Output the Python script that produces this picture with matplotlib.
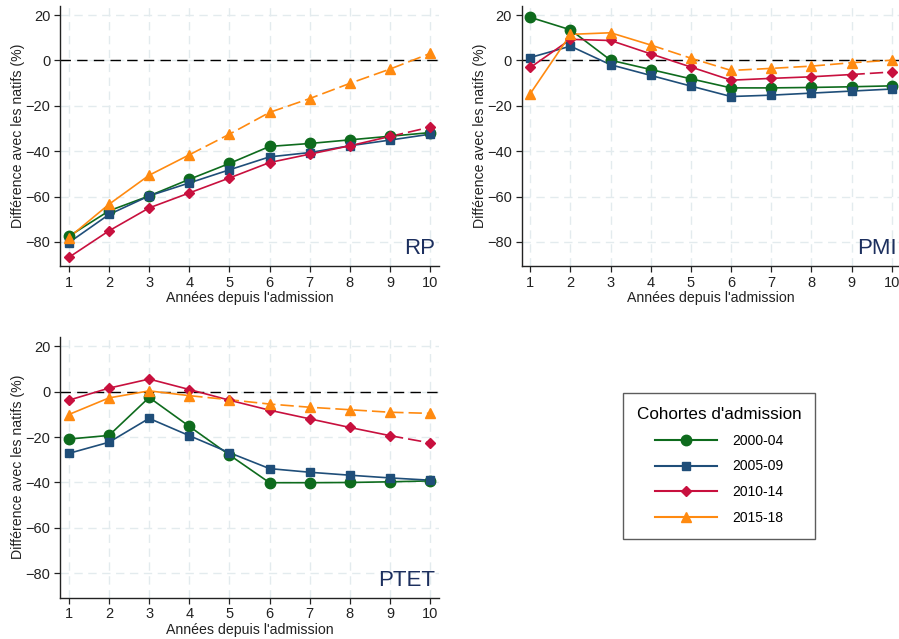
import matplotlib
matplotlib.use("Agg")
import matplotlib.pyplot as plt
from matplotlib.lines import Line2D

plt.rcParams['font.family'] = ['Liberation Sans', 'DejaVu Sans']

years = [1, 2, 3, 4, 5, 6, 7, 8, 9, 10]
cohorts = ["2000-04", "2005-09", "2010-14", "2015-18"]
panels = ["RP", "PMI", "PTET"]

rp_2000 = [-77.5, -66.3, -59.7, -52.4, -45.4, -37.9, -36.6, -35.0, -33.4, -31.8]
rp_2005 = [-80.3, -67.9, -59.7, -54.0, -48.2, -42.5, -40.6, -37.6, -35.1, -32.5]
rp_2010 = [-86.8, -75.1, -65.0, -58.4, -51.8, -45.0, -41.3, -37.6, -33.5, -29.4]
rp_2015 = [-78.1, -63.4, -50.6, -41.6, -32.5, -22.9, -16.8, -10.1, -3.8, 3.1]

pmi_2000 = [19.0, 13.5, 0.1, -4.0, -8.1, -12.1, -12.1, -11.9, -11.6, -11.2]
pmi_2005 = [1.3, 6.3, -1.9, -6.6, -11.3, -15.9, -15.3, -14.4, -13.5, -12.6]
pmi_2010 = [-3.1, 9.3, 8.8, 2.9, -2.9, -8.7, -7.9, -7.2, -6.2, -5.1]
pmi_2015 = [-14.6, 11.5, 12.2, 6.8, 1.0, -4.4, -3.5, -2.5, -1.0, 0.1]

ptet_2000 = [-20.9, -19.3, -2.6, -15.3, -27.9, -40.1, -40.1, -40.0, -39.7, -39.3]
ptet_2005 = [-27.2, -22.3, -11.8, -19.4, -26.9, -33.9, -35.5, -36.8, -38.0, -39.0]
ptet_2010 = [-3.8, 1.5, 5.5, 0.9, -3.8, -8.2, -12.0, -15.8, -19.4, -22.6]
ptet_2015 = [-10.1, -2.8, 0.3, -1.8, -3.6, -5.5, -6.9, -8.0, -9.1, -9.6]

# last year drawn with a solid line for each cohort (dashed afterwards)
observed_until = [10, 10, 9, 4]

series = {
    "RP": [rp_2000, rp_2005, rp_2010, rp_2015],
    "PMI": [pmi_2000, pmi_2005, pmi_2010, pmi_2015],
    "PTET": [ptet_2000, ptet_2005, ptet_2010, ptet_2015],
}

colors = ["#0e6b1d", "#1f4e79", "#c8103e", "#ff8a10"]
markers = ["o", "s", "D", "^"]
msizes = [7.5, 6, 5.5, 7]

fig = plt.figure(figsize=(8.99, 6.39), dpi=100)
W, H = 899, 639


def ax_rect(left, top, right, bottom):
    return [left / W, 1 - bottom / H, (right - left) / W, (bottom - top) / H]


rects = {
    "RP": ax_rect(60, 6, 439, 266),
    "PMI": ax_rect(521.5, 6, 900.5, 266),
    "PTET": ax_rect(60, 337, 439, 597.5),
}

for name in panels:
    ax = fig.add_axes(rects[name])
    ax.set_xlim(0.78, 10.22)
    ax.set_ylim(-90.6, 24)
    ax.set_xticks(years)
    ax.set_yticks([20, 0, -20, -40, -60, -80])
    ax.grid(True, color="#e3ebee", linestyle=(0, (6, 4)), linewidth=1.0)
    ax.set_axisbelow(True)
    for s in ["top", "right"]:
        ax.spines[s].set_visible(False)
    for s in ["left", "bottom"]:
        ax.spines[s].set_linewidth(1.0)
        ax.spines[s].set_color("#222222")
    ax.tick_params(axis="both", labelsize=10.5, length=4, width=0.9,
                   colors="#222222", pad=3)
    ax.axhline(0, color="black", linewidth=1.0, linestyle=(0, (7.5, 4.5)),
               zorder=1.5)
    for vals, col, mk, ms, last in zip(series[name], colors, markers, msizes,
                                       observed_until):
        n = last
        ax.plot(years[:n], vals[:n], color=col, linewidth=1.2, zorder=3)
        if n < len(years):
            ax.plot(years[n - 1:], vals[n - 1:], color=col, linewidth=1.2,
                    linestyle=(0, (8, 3)), zorder=3)
        ax.plot(years, vals, linestyle="none", marker=mk, markersize=ms,
                color=col, markeredgecolor=col, zorder=4)
    ax.set_xlabel("Années depuis l'admission", fontsize=10.2, labelpad=1,
                  color="#222222")
    ax.set_ylabel("Différence avec les natifs (%)", fontsize=10.2, labelpad=0,
                  color="#222222")
    ax.text(0.99, 0.025, name, transform=ax.transAxes, ha="right", va="bottom",
            fontsize=16, color="#1c2f5e")

handles = [
    Line2D([0], [0], color=c, marker=m, markersize=ms, linewidth=1.5)
    for c, m, ms in zip(colors, markers, msizes)
]
leg = fig.legend(handles, cohorts, title="Cohortes d'admission",
                 loc="upper left", bbox_to_anchor=(623 / W, 1 - 393 / H),
                 fontsize=10, title_fontsize=12.3, frameon=True, fancybox=False,
                 edgecolor="#333333", handlelength=4.5, handletextpad=1.1,
                 labelspacing=0.85, borderpad=1.0, borderaxespad=0,
                 alignment="center")
leg.get_frame().set_linewidth(1.0)

fig.savefig("out.png", dpi=100)
